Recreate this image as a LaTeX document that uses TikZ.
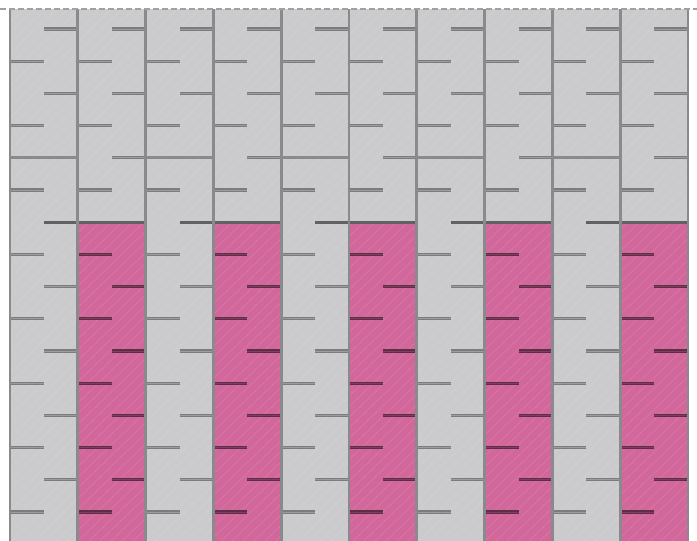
\documentclass[tikz,border=0pt]{standalone}
\definecolor{panelgray}{HTML}{CBCBCD}
\definecolor{rosefill}{HTML}{D2679B}
\definecolor{seamgray}{HTML}{8A8A8C}
\begin{document}
\begin{tikzpicture}[x=1pt, y=-1pt, line cap=butt, line join=round,
	seam/.style={draw=seamgray, line width=2.8pt},
	notch/.style={draw=seamgray!90!black, double=seamgray!85!white, double distance=1pt, line width=1.1pt},
	notchpink/.style={draw=rosefill!45!black, double=rosefill!60!black, double distance=1pt, line width=1.1pt},
	ledge/.style={draw=black!62, line width=2.8pt}]
	\pgfmathsetmacro{\w}{67.8}
	\pgfmathsetmacro{\p}{32.2}
	\useasboundingbox (0,0) rectangle (697,541);
	\fill[panelgray] (10,9) rectangle (688,541);
	\foreach \i in {1,3,5,7,9} {
		\fill[rosefill] ({10+\i*\w},{29+6*\p}) rectangle ({10+(\i+1)*\w},541);
	}
	% scratch texture
	\begin{scope}
		\clip (10,9) rectangle (688,541);
		\foreach \s in {0,11,...,1240} {
			\draw[white, opacity=0.1, line width=0.8pt] (\s-560,541) -- (\s,0);
		}
	\end{scope}
	% notches and ledges
	\foreach \i in {0,...,9} {
		\foreach \k in {0,...,15} {
			\pgfmathsetmacro{\xa}{10+\i*\w}
			\pgfmathsetmacro{\xm}{\xa+\w/2}
			\pgfmathsetmacro{\xb}{\xa+\w}
			\pgfmathsetmacro{\yk}{29+\k*\p}
			\pgfmathtruncatemacro{\full}{(mod(\i,2)==0 && \k==4) || (mod(\i,2)==1 && \k==6)}
			\pgfmathtruncatemacro{\side}{mod(\k,2)}
			\pgfmathtruncatemacro{\inpink}{mod(\i,2)==1 && \k>6}
			\ifnum\full=1
				\ifnum\k=6
					\draw[ledge] (\xa,\yk) -- (\xb,\yk);
				\else
					\draw[seam] (\xa,\yk) -- (\xb,\yk);
				\fi
			\else
				\ifnum\k=6
					\draw[ledge] (\xm,\yk) -- (\xb,\yk);
				\else
					\ifnum\inpink=1
						\ifnum\side=0 \draw[notchpink] (\xm,\yk) -- (\xb,\yk); \else \draw[notchpink] (\xa,\yk) -- (\xm,\yk); \fi
					\else
						\ifnum\side=0 \draw[notch] (\xm,\yk) -- (\xb,\yk); \else \draw[notch] (\xa,\yk) -- (\xm,\yk); \fi
					\fi
				\fi
			\fi
		}
	}
	% column seams
	\foreach \i in {0,...,10} {
		\draw[seam] ({10+\i*\w},9) -- ({10+\i*\w},541);
	}
	\draw[seamgray!80, line width=1.6pt, dash pattern=on 6pt off 3pt] (0,9) -- (697,9);
\end{tikzpicture}
\end{document}
